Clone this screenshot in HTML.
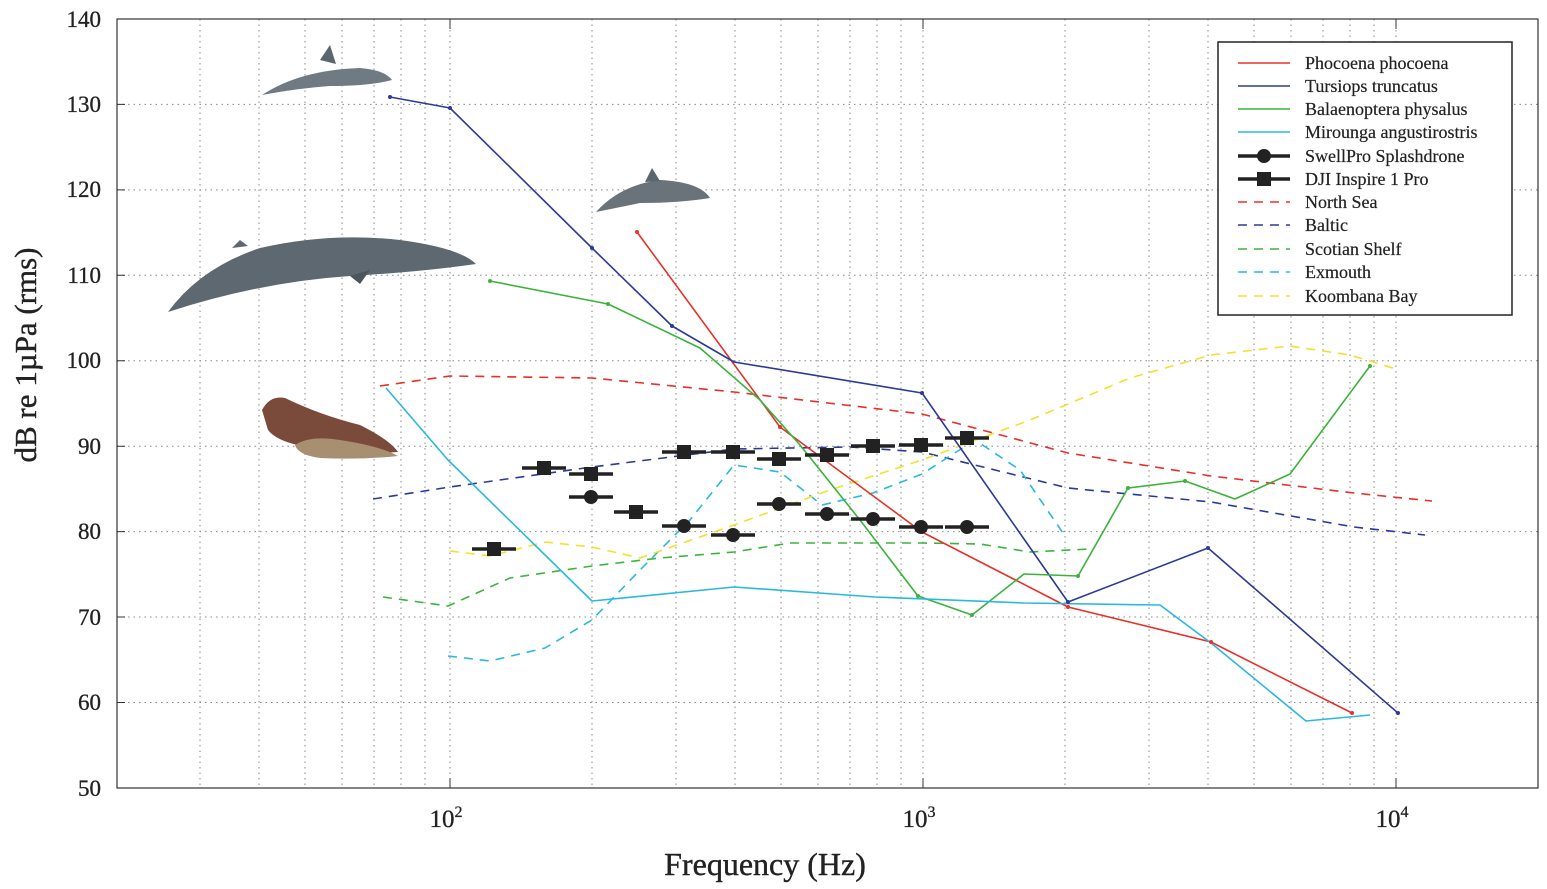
<!DOCTYPE html>
<html><head><meta charset="utf-8"><style>
html,body{margin:0;padding:0;background:#fff}
svg{display:block;font-family:"Liberation Serif","DejaVu Serif",serif}
</style></head><body>
<svg width="1547" height="889" viewBox="0 0 1547 889" xmlns="http://www.w3.org/2000/svg">
<rect width="1547" height="889" fill="#fff"/>
<g stroke="#888" stroke-width="1" stroke-dasharray="1.5,4" fill="none">
<path d="M117 104.4H1538M117 189.9H1538M117 275.3H1538M117 360.7H1538M117 446.2H1538M117 531.6H1538M117 617H1538M117 702.5H1538"/>
<path d="M200 19V788M259 19V788M305 19V788M342 19V788M374 19V788M401 19V788M425 19V788M450 19V788M592 19V788M676 19V788M735 19V788M781 19V788M818 19V788M850 19V788M877 19V788M901 19V788M923 19V788M1065 19V788M1149 19V788M1208 19V788M1254 19V788M1291 19V788M1323 19V788M1350 19V788M1374 19V788M1396 19V788"/>
</g>
<rect x="117" y="19" width="1421" height="769" fill="none" stroke="#333" stroke-width="1.2"/>
<g stroke="#333" stroke-width="1">
<path d="M117 104.4h8M117 189.9h8M117 275.3h8M117 360.7h8M117 446.2h8M117 531.6h8M117 617h8M117 702.5h8"/>
<path d="M450 788v-10M923 788v-10M1396 788v-10M450 19v10M923 19v10M1396 19v10"/>
</g>
<g font-size="23" fill="#222" text-anchor="end" stroke="#222" stroke-width="0.3">
<text x="101" y="27">140</text><text x="101" y="112">130</text><text x="101" y="197">120</text><text x="101" y="283">110</text><text x="101" y="368">100</text><text x="101" y="454">90</text><text x="101" y="539">80</text><text x="101" y="625">70</text><text x="101" y="710">60</text><text x="101" y="796">50</text>
</g>
<g font-size="25" fill="#222" text-anchor="middle" stroke="#222" stroke-width="0.3">
<text x="446" y="827">10<tspan font-size="16" dy="-10">2</tspan></text>
<text x="919" y="827">10<tspan font-size="16" dy="-10">3</tspan></text>
<text x="1392" y="827">10<tspan font-size="16" dy="-10">4</tspan></text>
</g>
<text x="765" y="875" font-size="32" fill="#222" text-anchor="middle" stroke="#222" stroke-width="0.4">Frequency (Hz)</text>
<text transform="translate(36,355) rotate(-90)" font-size="31" fill="#222" text-anchor="middle" stroke="#222" stroke-width="0.4">dB re 1µPa (rms)</text>

<g>
<path d="M262 95 Q300 70 360 68 Q385 70 392 80 Q370 86 330 86 Q300 88 262 95Z" fill="#6f7a82"/>
<path d="M320 60 L330 45 L336 64Z" fill="#5c666e"/>
<path d="M596 212 Q620 185 660 180 Q700 182 710 198 Q680 203 640 203Z" fill="#6a737a"/>
<path d="M645 182 L652 168 L660 181Z" fill="#5c666e"/>
<path d="M168 312 Q200 268 260 248 Q330 232 400 240 Q460 248 476 264 Q420 272 350 276 Q260 282 168 312Z" fill="#5e6870"/>
<path d="M232 248 L240 240 L248 246Z" fill="#5e6870"/>
<path d="M350 276 L370 270 L360 284Z" fill="#4c555c"/>
<path d="M262 410 Q270 395 285 398 Q320 415 360 425 Q390 440 398 452 Q360 455 320 448 Q280 445 268 430Z" fill="#7a4a3a"/>
<path d="M295 445 Q310 435 340 440 Q380 446 398 456 Q360 460 320 458 Q298 455 295 445Z" fill="#a88f72"/>
</g>

<g fill="none" stroke-width="1.6" stroke-linejoin="round">
<polyline stroke="#e8302a" stroke-dasharray="9,7" points="380,386 450,376 592,378 734,392 922,414 1068,453 1211,476 1354,493 1432,501"/>
<polyline stroke="#2b3a96" stroke-dasharray="9,7" points="373,499 450,487 592,467 734,449 850,447 922,452 1068,488 1211,502 1354,527 1425,535"/>
<polyline stroke="#3bb33b" stroke-dasharray="9,7" points="383,597 448,606 510,578 592,566 660,558 734,552 790,543 922,543 980,544 1030,552 1090,549"/>
<polyline stroke="#2bb8e0" stroke-dasharray="9,7" points="448,656 490,661 545,648 592,620 640,570 690,520 734,465 780,472 822,505 873,493 922,474 975,440 1020,470 1065,536"/>
<polyline stroke="#f2e030" stroke-dasharray="9,7" points="450,551 490,556 545,542 592,547 640,558 734,525 830,490 922,460 1030,420 1130,378 1211,355 1290,346 1350,355 1396,369"/>
<polyline stroke="#e8302a" points="637,232 780,427 922,532 1068,607 1211,642 1352,713"/>
<polyline stroke="#2b3a96" points="390,97 450,108 592,248 672,326 734,362 922,393 1068,602 1208,548 1398,713"/>
<polyline stroke="#3bb33b" points="490,281 608,304 700,348 760,400 800,445 860,520 918,596 972,615 1024,574 1078,576 1128,488 1185,481 1235,499 1290,474 1370,366"/>
<polyline stroke="#2bb8e0" points="386,388 448,460 592,601 734,587 875,597 1024,603 1160,605 1211,643 1306,721 1370,715"/>
</g>
<g fill="#e8302a"><circle cx="637" cy="232" r="2"/><circle cx="780" cy="427" r="2"/><circle cx="922" cy="532" r="2"/><circle cx="1068" cy="607" r="2"/><circle cx="1211" cy="642" r="2"/><circle cx="1352" cy="713" r="2"/></g>
<g fill="#2b3a96"><circle cx="390" cy="97" r="2"/><circle cx="450" cy="108" r="2"/><circle cx="592" cy="248" r="2"/><circle cx="672" cy="326" r="2"/><circle cx="922" cy="393" r="2"/><circle cx="1068" cy="602" r="2"/><circle cx="1208" cy="548" r="2"/><circle cx="1398" cy="713" r="2"/></g>
<g fill="#3bb33b"><circle cx="490" cy="281" r="2"/><circle cx="608" cy="304" r="2"/><circle cx="918" cy="596" r="2"/><circle cx="972" cy="615" r="2"/><circle cx="1078" cy="576" r="2"/><circle cx="1128" cy="488" r="2"/><circle cx="1185" cy="481" r="2"/><circle cx="1370" cy="366" r="2"/></g>
<g stroke="#222" stroke-width="3.5">
<path d="M472 549h44M522 468h44M569 474h44M614 512h44M662 452h44M711 452h44M757 459h44M805 455h44M851 446h44M899 445h44M945 438h44"/>
<path d="M569 497h44M662 526h44M711 535h44M757 504h44M805 514h44M851 519h44M899 527h44M945 527h44"/>
</g>
<g fill="#222">
<rect x="487" y="542" width="14" height="14"/><rect x="537" y="461" width="14" height="14"/><rect x="584" y="467" width="14" height="14"/><rect x="629" y="505" width="14" height="14"/><rect x="677" y="445" width="14" height="14"/><rect x="726" y="445" width="14" height="14"/><rect x="772" y="452" width="14" height="14"/><rect x="820" y="448" width="14" height="14"/><rect x="866" y="439" width="14" height="14"/><rect x="914" y="438" width="14" height="14"/><rect x="960" y="431" width="14" height="14"/>
<circle cx="591" cy="497" r="7"/><circle cx="684" cy="526" r="7"/><circle cx="733" cy="535" r="7"/><circle cx="779" cy="504" r="7"/><circle cx="827" cy="514" r="7"/><circle cx="873" cy="519" r="7"/><circle cx="921" cy="527" r="7"/><circle cx="967" cy="527" r="7"/>
</g>

<rect x="1218" y="42" width="294" height="273" fill="#fff" stroke="#222" stroke-width="1.5"/>
<g stroke-width="1.6" fill="none">
<path d="M1238 63h52" stroke="#e8302a"/>
<path d="M1238 86h52" stroke="#2b3a96"/>
<path d="M1238 109h52" stroke="#3bb33b"/>
<path d="M1238 132h52" stroke="#2bb8e0"/>
<path d="M1238 156h52" stroke="#222" stroke-width="3.5"/>
<path d="M1238 179h52" stroke="#222" stroke-width="3.5"/>
<path d="M1238 202h52" stroke="#e8302a" stroke-dasharray="9,7"/>
<path d="M1238 225h52" stroke="#2b3a96" stroke-dasharray="9,7"/>
<path d="M1238 249h52" stroke="#3bb33b" stroke-dasharray="9,7"/>
<path d="M1238 272h52" stroke="#2bb8e0" stroke-dasharray="9,7"/>
<path d="M1238 296h52" stroke="#f2e030" stroke-dasharray="9,7"/>
</g>
<circle cx="1264" cy="156" r="7" fill="#222"/>
<rect x="1257" y="172" width="14" height="14" fill="#222"/>
<g font-size="18" fill="#222" stroke="#222" stroke-width="0.2">
<text x="1305" y="69">Phocoena phocoena</text>
<text x="1305" y="92">Tursiops truncatus</text>
<text x="1305" y="115">Balaenoptera physalus</text>
<text x="1305" y="138">Mirounga angustirostris</text>
<text x="1305" y="162">SwellPro Splashdrone</text>
<text x="1305" y="185">DJI Inspire 1 Pro</text>
<text x="1305" y="208">North Sea</text>
<text x="1305" y="231">Baltic</text>
<text x="1305" y="255">Scotian Shelf</text>
<text x="1305" y="278">Exmouth</text>
<text x="1305" y="302">Koombana Bay</text>
</g>
</svg>
</body></html>
